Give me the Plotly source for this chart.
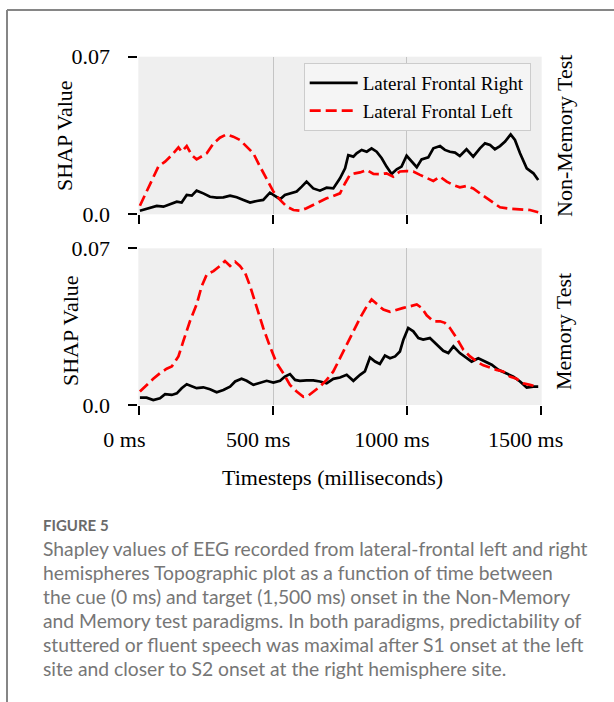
import plotly.graph_objects as go

# ---------------- data ----------------
x_tick_vals = [0, 500, 1000, 1500]
x_tick_text = ["0 ms", "500 ms", "1000 ms", "1500 ms"]
y_tick_vals = [0, 0.07]
y_tick_text = ["0.0", "0.07"]

series_names = ["Lateral Frontal Right", "Lateral Frontal Left"]
panel_names = ["Non-Memory Test", "Memory Test"]

# Non-Memory Test, Lateral Frontal Right
nm_right_t = [2, 40, 65, 90, 115, 140, 158, 177, 196, 214, 239, 264, 289, 314, 339, 364, 389, 414, 439, 463,
              488, 507, 526, 544, 569, 588, 607, 625, 650, 675, 700, 725, 750, 769, 781, 800, 812, 831, 850, 868,
              887, 906, 924, 943, 962, 980, 999, 1018, 1037, 1055, 1080, 1099, 1124, 1142, 1161, 1180, 1198,
              1223, 1248, 1273, 1292, 1311, 1329, 1348, 1367, 1388, 1404, 1423, 1448, 1473, 1491]
nm_right_v = [0.0016, 0.0027, 0.0037, 0.0034, 0.0046, 0.0056, 0.0052, 0.0086, 0.0083, 0.0105, 0.0093, 0.0078,
              0.0074, 0.0075, 0.0083, 0.0076, 0.0064, 0.0052, 0.0059, 0.0064, 0.0096, 0.0081, 0.0067, 0.0086,
              0.0093, 0.0101, 0.0123, 0.0145, 0.0115, 0.0105, 0.0118, 0.0115, 0.0160, 0.0204, 0.0263, 0.0256,
              0.0271, 0.0286, 0.0278, 0.0293, 0.0278, 0.0249, 0.0212, 0.0179, 0.0200, 0.0212, 0.0260, 0.0234,
              0.0209, 0.0244, 0.0253, 0.0293, 0.0303, 0.0286, 0.0278, 0.0274, 0.0259, 0.0289, 0.0256, 0.0293,
              0.0315, 0.0308, 0.0289, 0.0303, 0.0323, 0.0355, 0.0330, 0.0271, 0.0204, 0.0182, 0.0152]

# Non-Memory Test, Lateral Frontal Left
nm_left_t = [2, 15, 34, 52, 71, 96, 121, 146, 158, 177, 196, 214, 233, 252, 277, 301, 326, 351, 376, 401, 426,
             451, 476, 501, 526, 551, 576, 600, 625, 650, 675, 700, 725, 750, 769, 787, 806, 825, 850, 875, 899,
             924, 949, 974, 999, 1024, 1049, 1074, 1099, 1124, 1149, 1174, 1198, 1223, 1248, 1273, 1298, 1323,
             1348, 1385, 1423, 1460, 1491]
nm_left_v = [0.0038, 0.0071, 0.0123, 0.0167, 0.0212, 0.0234, 0.0263, 0.0297, 0.0278, 0.0303, 0.0263, 0.0244,
             0.0256, 0.0271, 0.0315, 0.0340, 0.0355, 0.0345, 0.0330, 0.0300, 0.0271, 0.0212, 0.0155, 0.0101,
             0.0064, 0.0034, 0.0019, 0.0016, 0.0027, 0.0041, 0.0056, 0.0071, 0.0081, 0.0093, 0.0138, 0.0175,
             0.0182, 0.0186, 0.0197, 0.0179, 0.0178, 0.0182, 0.0167, 0.0190, 0.0192, 0.0190, 0.0175, 0.0160,
             0.0148, 0.0167, 0.0145, 0.0130, 0.0120, 0.0126, 0.0115, 0.0093, 0.0071, 0.0049, 0.0031, 0.0025,
             0.0022, 0.0019, 0.0009]

# Memory Test, Lateral Frontal Right
m_right_t = [2, 27, 52, 77, 96, 121, 140, 158, 177, 196, 214, 239, 264, 289, 314, 339, 358, 382, 401, 426, 451,
             476, 501, 526, 544, 563, 582, 600, 625, 650, 675, 700, 725, 750, 775, 800, 825, 843, 862, 881, 899,
             918, 937, 956, 974, 987, 1005, 1024, 1043, 1061, 1086, 1111, 1136, 1155, 1174, 1198, 1223, 1242,
             1267, 1292, 1317, 1342, 1367, 1398, 1423, 1448, 1473, 1491]
m_right_v = [0.0033, 0.0033, 0.0022, 0.0030, 0.0048, 0.0045, 0.0052, 0.0075, 0.0093, 0.0082, 0.0075, 0.0079,
             0.0070, 0.0057, 0.0067, 0.0082, 0.0105, 0.0117, 0.0108, 0.0090, 0.0100, 0.0108, 0.0100, 0.0108,
             0.0127, 0.0138, 0.0112, 0.0108, 0.0110, 0.0110, 0.0105, 0.0097, 0.0117, 0.0123, 0.0135, 0.0108,
             0.0135, 0.0150, 0.0212, 0.0194, 0.0183, 0.0221, 0.0209, 0.0217, 0.0239, 0.0292, 0.0344, 0.0329,
             0.0299, 0.0292, 0.0299, 0.0269, 0.0242, 0.0232, 0.0262, 0.0232, 0.0209, 0.0194, 0.0209, 0.0194,
             0.0180, 0.0157, 0.0142, 0.0127, 0.0105, 0.0078, 0.0082, 0.0082]

# Memory Test, Lateral Frontal Left
m_left_t = [2, 27, 52, 77, 102, 121, 146, 164, 189, 214, 233, 252, 277, 301, 320, 339, 358, 376, 395, 414, 439,
            463, 488, 513, 538, 563, 588, 613, 632, 650, 675, 700, 725, 750, 775, 800, 825, 850, 868, 887, 912,
            937, 962, 987, 1012, 1037, 1055, 1074, 1099, 1124, 1142, 1161, 1186, 1211, 1236, 1261, 1286, 1311,
            1335, 1360, 1385, 1410, 1435, 1460, 1485]
m_left_v = [0.0060, 0.0090, 0.0117, 0.0142, 0.0162, 0.0172, 0.0217, 0.0284, 0.0374, 0.0449, 0.0531, 0.0583,
            0.0598, 0.0621, 0.0643, 0.0621, 0.0640, 0.0621, 0.0591, 0.0531, 0.0434, 0.0344, 0.0262, 0.0187,
            0.0142, 0.0090, 0.0060, 0.0037, 0.0042, 0.0060, 0.0082, 0.0112, 0.0150, 0.0209, 0.0269, 0.0329,
            0.0389, 0.0441, 0.0471, 0.0452, 0.0426, 0.0416, 0.0426, 0.0434, 0.0441, 0.0449, 0.0434, 0.0401,
            0.0374, 0.0374, 0.0367, 0.0344, 0.0299, 0.0247, 0.0217, 0.0194, 0.0177, 0.0165, 0.0157, 0.0150,
            0.0127, 0.0117, 0.0097, 0.0090, 0.0082]

caption_title = "FIGURE 5"
caption_lines = [
    "Shapley values of EEG recorded from lateral-frontal left and right",
    "hemispheres Topographic plot as a function of time between",
    "the cue (0 ms) and target (1,500 ms) onset in the Non-Memory",
    "and Memory test paradigms. In both paradigms, predictability of",
    "stuttered or fluent speech was maximal after S1 onset at the left",
    "site and closer to S2 onset at the right hemisphere site.",
]

# ---------------- figure ----------------
W, H = 614, 702
SERIF = "Liberation Serif, Times New Roman, serif"
SANS = "Lato, Open Sans, sans-serif"


def px_x(p):
    return p / W


def px_y(p):
    return 1 - p / H


right_style = dict(color="black", width=2.7)
left_style = dict(color="#ff0000", width=2.7, dash="11px,5px")

fig = go.Figure()
fig.add_trace(go.Scatter(x=nm_right_t, y=nm_right_v, mode="lines", name=series_names[0],
                         line=right_style, xaxis="x", yaxis="y"))
fig.add_trace(go.Scatter(x=nm_left_t, y=nm_left_v, mode="lines", name=series_names[1],
                         line=left_style, xaxis="x", yaxis="y"))
fig.add_trace(go.Scatter(x=m_right_t, y=m_right_v, mode="lines", name=series_names[0],
                         line=right_style, xaxis="x2", yaxis="y2", showlegend=False))
fig.add_trace(go.Scatter(x=m_left_t, y=m_left_v, mode="lines", name=series_names[1],
                         line=left_style, xaxis="x2", yaxis="y2", showlegend=False))

x_dom = [px_x(138.3), px_x(541.7)]
common_x = dict(
    domain=x_dom, range=[-4, 1504], tickmode="array", tickvals=x_tick_vals, ticktext=x_tick_text,
    ticks="outside", ticklen=9, tickwidth=2, tickcolor="black", showgrid=False, zeroline=False,
    showline=False, automargin=False, tickfont=dict(family=SERIF, size=22, color="black"),
    minor=dict(tickmode="array", tickvals=x_tick_vals[1:3], showgrid=True, gridcolor="#c4c4c4",
               gridwidth=1, ticks=""),
)
common_y = dict(
    range=[0, 0.07], tickmode="array", tickvals=y_tick_vals, ticktext=y_tick_text,
    ticks="outside", ticklen=9, tickwidth=2, tickcolor="black", showgrid=False, zeroline=False,
    showline=False, automargin=False, tickfont=dict(family=SERIF, size=22, color="black"),
    ticklabelstandoff=14,
)

fig.update_layout(
    width=W, height=H, autosize=False, margin=dict(l=0, r=0, t=0, b=0, pad=0, autoexpand=False),
    paper_bgcolor="white", plot_bgcolor="#efefef",
    xaxis=dict(common_x, anchor="y", showticklabels=False),
    yaxis=dict(common_y, domain=[px_y(214.3), px_y(56.7)], anchor="x"),
    xaxis2=dict(common_x, anchor="y2", showticklabels=True, ticklabelshift=-15, ticklabelstandoff=6),
    yaxis2=dict(common_y, domain=[px_y(405), px_y(248.3)], anchor="x2"),
    legend=dict(x=px_x(530.7), xanchor="right", y=px_y(63), yanchor="top", itemwidth=48,
                bgcolor="#f5f5f5", bordercolor="#cccccc", borderwidth=1,
                font=dict(family=SERIF, size=19, color="black"), tracegroupgap=0),
    showlegend=True,
)

annotations = []
# y-axis titles and right-side panel labels
for yc, xc in [(136, 64), (331, 70)]:
    annotations.append(dict(text="SHAP Value", textangle=-90, xref="paper", yref="paper",
                            x=px_x(xc), y=px_y(yc), showarrow=False, xanchor="center", yanchor="middle",
                            font=dict(family=SERIF, size=22, color="black")))
for name, yc in zip(panel_names, [136, 332]):
    annotations.append(dict(text=name, textangle=-90, xref="paper", yref="paper",
                            x=px_x(564), y=px_y(yc), showarrow=False, xanchor="center", yanchor="middle",
                            font=dict(family=SERIF, size=22, color="black")))
# x-axis title
annotations.append(dict(text="Timesteps (milliseconds)", xref="paper", yref="paper",
                        x=px_x(332.5), y=px_y(478), showarrow=False, xanchor="center", yanchor="middle",
                        font=dict(family=SERIF, size=22, color="black")))
# caption
annotations.append(dict(text=caption_title, xref="paper", yref="paper", x=px_x(41), y=px_y(525),
                        showarrow=False, xanchor="left", yanchor="middle",
                        font=dict(family=SANS, size=15, color="#6a6a6a", weight="bold")))
for i, line in enumerate(caption_lines):
    annotations.append(dict(text=line, xref="paper", yref="paper", x=px_x(41), y=px_y(548 + 24 * i),
                            showarrow=False, xanchor="left", yanchor="middle",
                            font=dict(family=SANS, size=19.3, color="#767676")))
fig.update_layout(annotations=annotations)

# figure frame (top and left borders)
frame = dict(type="line", xref="paper", yref="paper", line=dict(color="#868686", width=2))
fig.add_shape(frame, x0=px_x(7), x1=px_x(7), y0=0, y1=px_y(10))
fig.add_shape(frame, x0=px_x(7), x1=1, y0=px_y(10), y1=px_y(10))

fig.write_html("out.html")
